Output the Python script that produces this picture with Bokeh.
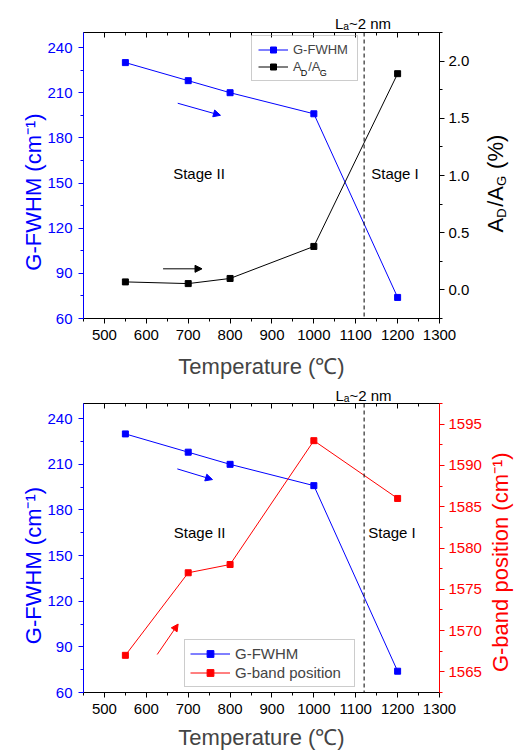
import math
from bokeh.plotting import figure
from bokeh.models import (Range1d, LinearAxis, SingleIntervalTicker, PrintfTickFormatter,
                          CustomJSTickFormatter, Span, Label, Arrow, NormalHead, Legend,
                          LegendItem)
from bokeh.layouts import column
from bokeh.embed import file_html
from bokeh.resources import INLINE

# ---------------- data ----------------
temperature = [550, 700, 800, 1000, 1200]          # deg C
g_fwhm = [230, 218, 210, 196, 74]                  # cm^-1
ad_ag = [0.07, 0.055, 0.10, 0.38, 1.89]            # %
g_band = [1567, 1577, 1578, 1593, 1586]            # cm^-1
la_boundary = 1120                                 # La ~ 2 nm

x_range_vals = (450, 1300)
fwhm_range_vals = (60, 250)
ratio_range_vals = (-0.25, 2.25)
gband_range_vals = (1562.5, 1597.5)

FONT = "Liberation Sans"
BLUE = "#0000FF"
RED = "#FF0000"
BLACK = "#000000"
HALF = math.pi / 2
EN = "\u2002"


def style_axis(ax, color, tick_in=0, tick_out=5, minor_in=0, minor_out=3):
    ax.axis_line_color = color
    ax.axis_line_width = 1
    ax.major_tick_line_color = color
    ax.minor_tick_line_color = color
    ax.major_label_text_color = color
    ax.major_label_text_font = FONT
    ax.major_label_text_font_size = "15px"
    ax.major_tick_in = tick_in
    ax.major_tick_out = tick_out
    ax.minor_tick_in = minor_in
    ax.minor_tick_out = minor_out


def base_figure(frame_h, border_top, border_bottom, label_standoff):
    p = figure(frame_width=356, frame_height=frame_h,
               x_range=Range1d(*x_range_vals), y_range=Range1d(*fwhm_range_vals),
               output_backend="svg", toolbar_location=None,
               min_border_left=83, min_border_right=76,
               min_border_top=border_top, min_border_bottom=border_bottom,
               x_axis_location=None, y_axis_location=None)
    p.grid.visible = False
    p.outline_line_color = None
    p.background_fill_color = "white"
    p.border_fill_color = "white"

    xb = LinearAxis(ticker=SingleIntervalTicker(interval=100, num_minor_ticks=2),
                    axis_label="Temperature (\u2103)")
    style_axis(xb, BLACK)
    xb.axis_label_text_font = FONT
    xb.axis_label_text_font_size = "22px"
    xb.axis_label_text_font_style = "normal"
    xb.axis_label_standoff = label_standoff
    xb.major_label_standoff = 6
    p.add_layout(xb, "below")

    xt = LinearAxis(ticker=SingleIntervalTicker(interval=100, num_minor_ticks=2),
                    formatter=CustomJSTickFormatter(code="return ''"))
    style_axis(xt, BLACK, tick_in=5, tick_out=0, minor_in=3, minor_out=0)
    xt.major_label_text_font_size = "0px"
    xt.major_label_standoff = 0
    p.add_layout(xt, "above")

    yl = LinearAxis(ticker=SingleIntervalTicker(interval=30, num_minor_ticks=2))
    style_axis(yl, BLUE)
    yl.major_label_standoff = 6
    p.add_layout(yl, "left")

    p.add_layout(Span(location=la_boundary, dimension="height", line_color=BLACK,
                      line_width=1, line_dash="4 3"))
    return p


def mk_label(text, x, y, size, color=BLACK, angle=0.0, align="left",
             baseline="alphabetic", units="canvas"):
    return Label(x=x, y=y, x_units=units, y_units=units, text=text, angle=angle,
                 text_align=align, text_baseline=baseline, text_font=FONT,
                 text_font_size=f"{size}px", text_color=color)


def add_arrow(p, color, x0, y0, x1, y1):
    p.add_layout(Arrow(end=NormalHead(size=7, fill_color=color, line_color=color, line_width=1),
                       x_start=x0, y_start=y0, x_end=x1, y_end=y1,
                       line_color=color, line_width=1))


# ================= top chart (canvas y measured from canvas top) =================
p1 = base_figure(286, 32, 64, 11)
p1.extra_y_ranges = {"ratio": Range1d(*ratio_range_vals)}
yr1 = LinearAxis(y_range_name="ratio",
                 ticker=SingleIntervalTicker(interval=0.5, num_minor_ticks=2),
                 formatter=PrintfTickFormatter(format="%.1f"))
style_axis(yr1, BLACK)
yr1.major_label_standoff = 4
p1.add_layout(yr1, "right")

l_fw1 = p1.line(temperature, g_fwhm, line_color=BLUE, line_width=1)
s_fw1 = p1.scatter(temperature, g_fwhm, marker="square", size=6, color=BLUE)
l_ad = p1.line(temperature, ad_ag, line_color=BLACK, line_width=1, y_range_name="ratio")
s_ad = p1.scatter(temperature, ad_ag, marker="square", size=6, color=BLACK, y_range_name="ratio")

leg1 = Legend(items=[LegendItem(label="G-FWHM", renderers=[l_fw1, s_fw1]),
                     LegendItem(label="A" + EN + "/A", renderers=[l_ad, s_ad])],
              location=(168, 237), orientation="vertical",
              label_text_font=FONT, label_text_font_size="13px",
              glyph_width=30, glyph_height=15, label_height=15, label_width=58,
              label_standoff=5, padding=6, spacing=2, margin=0,
              border_line_color="#999999", border_line_width=1,
              background_fill_alpha=0)
p1.add_layout(leg1)
# legend subscripts (inside the frame, data units)
p1.add_layout(mk_label("D", 969, 223, 9, units="data"))
p1.add_layout(mk_label("G", 1014, 223, 9, units="data"))

p1.add_layout(mk_label("Stage II", 664, 156, 15, baseline="middle", units="data"))
p1.add_layout(mk_label("Stage I", 1137, 156, 15, baseline="middle", units="data"))
add_arrow(p1, BLUE, 675, 203, 777, 195)
add_arrow(p1, BLACK, 640, 93, 733, 93)

# texts outside the frame, spread over side panels
p1.add_layout(mk_label("L\u2090~2 nm", 334.5, 22.7, 15), "above")
p1.add_layout(mk_label("G-FWHM (cm\u207b\u00b9)", 33.3, 191.5, 22, color=BLUE,
                       angle=HALF, align="center"), "left")
p1.add_layout(mk_label("A" + EN + "/A" + EN + " (%)", 495, 232, 22, angle=HALF), "right")
p1.add_layout(mk_label("D", 500.5, 217.3, 13, angle=HALF), "right")
p1.add_layout(mk_label("G", 500.5, 185.5, 13, angle=HALF), "left")

# ================= bottom chart (canvas starts at page y = 382) =================
p2 = base_figure(289, 21, 62, 8)
p2.extra_y_ranges = {"gband": Range1d(*gband_range_vals)}
yr2 = LinearAxis(y_range_name="gband",
                 ticker=SingleIntervalTicker(interval=5, num_minor_ticks=2))
style_axis(yr2, RED)
yr2.major_label_standoff = 4
p2.add_layout(yr2, "right")

l_fw2 = p2.line(temperature, g_fwhm, line_color=BLUE, line_width=1)
s_fw2 = p2.scatter(temperature, g_fwhm, marker="square", size=6, color=BLUE)
l_gb = p2.line(temperature, g_band, line_color=RED, line_width=1, y_range_name="gband")
s_gb = p2.scatter(temperature, g_band, marker="square", size=6, color=RED, y_range_name="gband")

leg2 = Legend(items=[LegendItem(label="G-FWHM", renderers=[l_fw2, s_fw2]),
                     LegendItem(label="G-band position", renderers=[l_gb, s_gb])],
              location=(101, 5), orientation="vertical",
              label_text_font=FONT, label_text_font_size="15px",
              glyph_width=40, glyph_height=17, label_height=17, label_width=114,
              label_standoff=5, padding=5, spacing=2, margin=0,
              border_line_color="#999999", border_line_width=1,
              background_fill_color="white", background_fill_alpha=1)
p2.add_layout(leg2)

p2.add_layout(mk_label("Stage II", 665.6, 165.1, 15, baseline="middle", units="data"))
p2.add_layout(mk_label("Stage I", 1129.8, 165.5, 15, baseline="middle", units="data"))
add_arrow(p2, BLUE, 674, 207, 758, 200)
add_arrow(p2, RED, 626, 85, 676, 105)

p2.add_layout(mk_label("L\u2090~2 nm", 335, 13, 15), "above")
p2.add_layout(mk_label("G-FWHM (cm\u207b\u00b9)", 33.3, 183, 22, color=BLUE,
                       angle=HALF, align="center"), "left")
p2.add_layout(mk_label("G-band position (cm\u207b\u00b9)", 500, 179.7, 22, color=RED,
                       angle=HALF, align="center"), "right")

layout = column(p1, p2, spacing=0)
open("out.html", "w").write(file_html(layout, INLINE))
